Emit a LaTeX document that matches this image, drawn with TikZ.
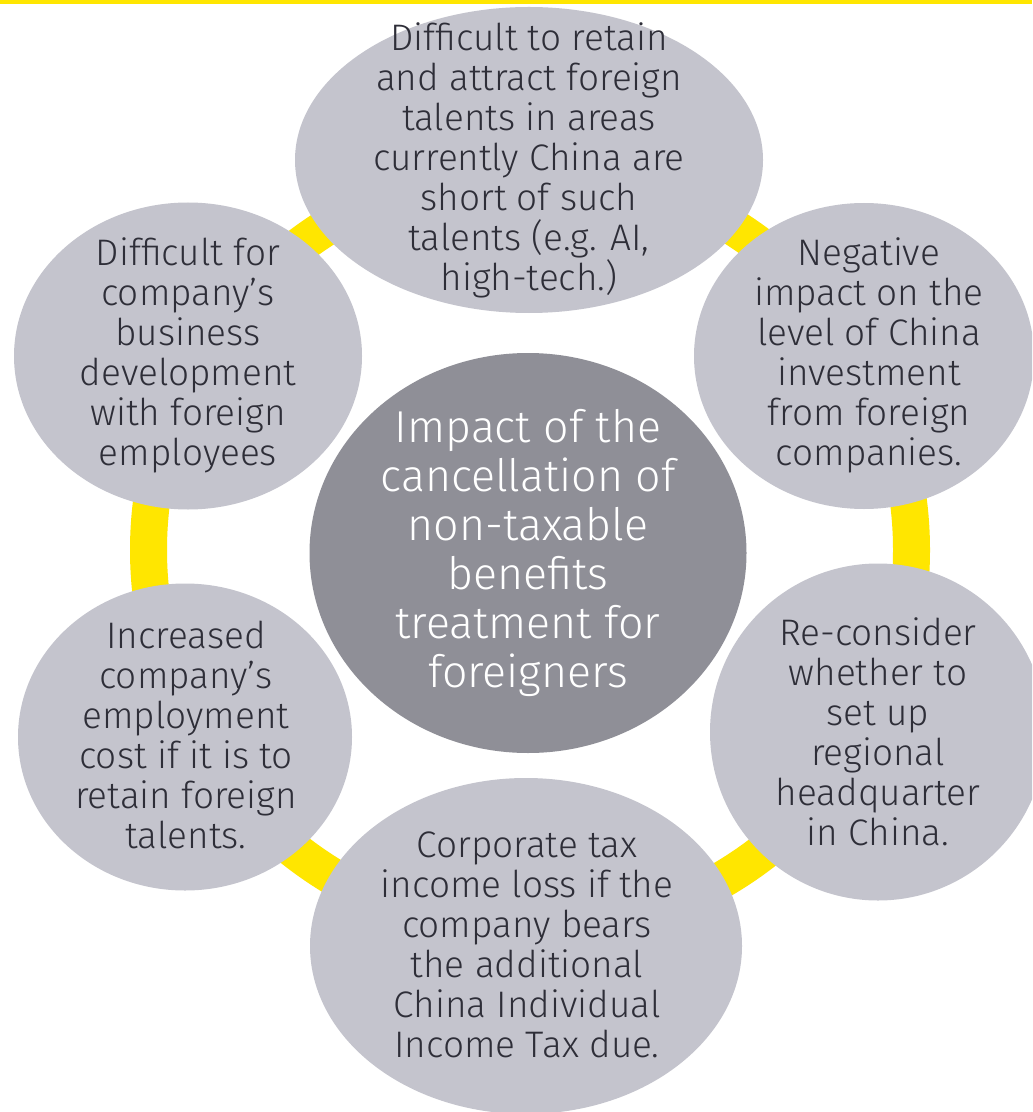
\documentclass[tikz,border=0pt]{standalone}
\usepackage{fontspec}
\setmainfont{Fira Sans}[UprightFont={* Light}]
\usetikzlibrary{shapes.geometric}
\definecolor{eyyellow}{HTML}{FFE600}
\definecolor{bubble}{HTML}{C4C4CD}
\definecolor{hub}{HTML}{8F8F97}
\definecolor{ink}{HTML}{2E2E38}
\tikzset{
  bubbleshape/.style={ellipse, fill=bubble, draw=none, inner sep=0pt},
  hubshape/.style={ellipse, fill=hub, draw=none, inner sep=0pt},
  bubbletext/.style={align=center, text=ink, inner sep=0pt, font=\fontsize{27.7}{30}\selectfont},
  hubtext/.style={align=center, text=white, inner sep=0pt, font=\fontsize{33.5}{36.8}\selectfont},
}
\begin{document}
\begin{tikzpicture}[x=0.75pt,y=-0.75pt]
\useasboundingbox (0,0) rectangle (1032,1112);
\clip (0,0) rectangle (1032,1112);
\fill[white] (0,0) rectangle (1032,1112);
\fill[eyyellow] (0,0) rectangle (1032,4.5);
% ring
\draw[eyyellow, line width={37*0.75pt}] (530,550) circle[radius=381.5];
% bubbles
\node[bubbleshape, minimum width={468*0.75pt}, minimum height={306*0.75pt}] (top) at (529,160) {};
\node[bubbleshape, minimum width={348*0.75pt}, minimum height={307*0.75pt}] (lu) at (188,356) {};
\node[bubbleshape, minimum width={340*0.75pt}, minimum height={306*0.75pt}] (ru) at (864,356) {};
\node[bubbleshape, minimum width={334*0.75pt}, minimum height={307*0.75pt}] (ll) at (185,737) {};
\node[bubbleshape, minimum width={336*0.75pt}, minimum height={337*0.75pt}] (rl) at (878,732) {};
\node[bubbleshape, minimum width={432*0.75pt}, minimum height={336*0.75pt}] (bot) at (526,946) {};
\node[hubshape, minimum width={437*0.75pt}, minimum height={400*0.75pt}] (hub) at (528,553) {};
% texts
\node[bubbletext] (toptext) at (529,160) {Difficult to retain\\and attract foreign\\talents in areas\\currently China are\\short of such\\talents (e.g. AI,\\high-tech.)};
\node[bubbletext] (lutext) at (188,355) {Difficult for\\company’s\\business\\development\\with foreign\\employees};
\node[bubbletext] (rutext) at (869,355) {Negative\\impact on the\\level of China\\investment\\from foreign\\companies.};
\node[bubbletext] (lltext) at (186,735) {Increased\\company’s\\employment\\cost if it is to\\retain foreign\\talents.};
\node[bubbletext] (rltext) at (878,732) {Re-consider\\whether to\\set up\\regional\\headquarter\\in China.};
\node[bubbletext] (bottext) at (527,945) {Corporate tax\\income loss if the\\company bears\\the additional\\China Individual\\Income Tax due.};
\node[hubtext] (hubtext) at (528,553) {Impact of the\\cancellation of\\non-taxable\\benefits\\treatment for\\foreigners};
\end{tikzpicture}
\end{document}
